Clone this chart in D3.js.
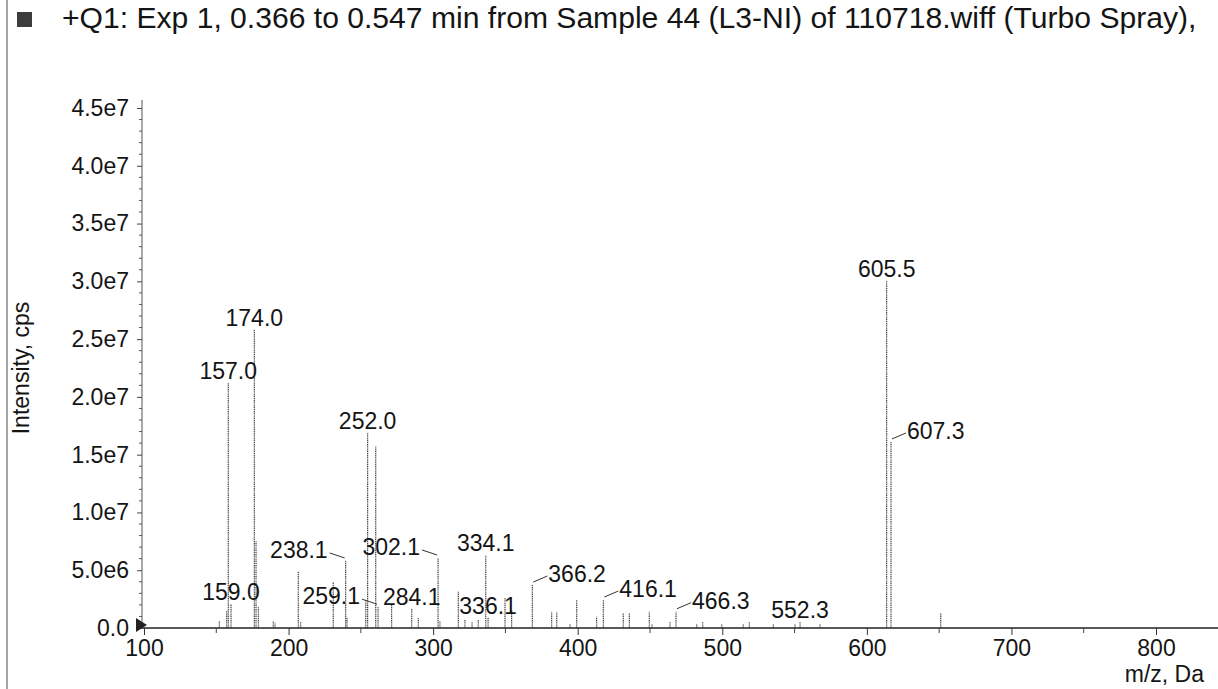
<!DOCTYPE html>
<html><head><meta charset="utf-8">
<script src="https://cdn.jsdelivr.net/npm/d3@7"></script>
<style>
body{margin:0;background:#fff}
svg{display:block}
text{font-family:"Liberation Sans",Arial,sans-serif;fill:#141414}
</style>
</head><body>
<svg id="chart" width="1218" height="689"></svg>
<script>
// ---------------- data ----------------
const titleText = "+Q1: Exp 1, 0.366 to 0.547 min from Sample 44 (L3-NI) of 110718.wiff (Turbo Spray),";
const xTitle = "m/z, Da";
const yTitle = "Intensity, cps";
const xTicks = [100, 200, 300, 400, 500, 600, 700, 800];
const xMinorTicks = [150, 250, 350, 450, 550, 650, 750];
const yTicks = [0, 5e6, 1e7, 1.5e7, 2e7, 2.5e7, 3e7, 3.5e7, 4e7, 4.5e7];
const yTickLabels = ["0.0", "5.0e6", "1.0e7", "1.5e7", "2.0e7", "2.5e7", "3.0e7", "3.5e7", "4.0e7", "4.5e7"];

const peakMz = [152.1, 157.2, 158.3, 160.2, 176.3, 177.5, 179.1, 189.4, 190.6, 206.7,
  208.4, 230.9, 239.5, 240.4, 253.4, 254.7, 260.3, 261.9, 271.3, 285.2,
  289.7, 303.4, 304.7, 317.4, 322.0, 326.9, 331.2, 336.4, 338.0, 349.7,
  354.3, 368.6, 382.0, 385.5, 394.7, 399.3, 413.1, 417.7, 431.5, 435.7,
  449.5, 451.4, 463.8, 468.0, 482.3, 486.5, 499.6, 514.5, 518.7, 535.3,
  550.3, 553.8, 567.6, 613.7, 616.7, 651.1];
const peakIntensity = [0.6e6, 1.5e6, 2.12e7, 2.1e6, 2.58e7, 7.5e6, 1.8e6, 0.6e6, 0.45e6, 4.87e6,
  0.5e6, 4.0e6, 5.8e6, 0.9e6, 2.4e6, 1.685e7, 1.57e7, 1.8e6, 2.0e6, 1.64e6,
  0.87e6, 6.06e6, 0.6e6, 3.14e6, 0.7e6, 0.5e6, 0.7e6, 6.3e6, 0.9e6, 2.57e6,
  1.56e6, 3.72e6, 1.41e6, 1.38e6, 0.4e6, 2.42e6, 0.98e6, 2.42e6, 1.32e6, 1.32e6,
  1.41e6, 0.4e6, 0.55e6, 1.41e6, 0.4e6, 0.5e6, 0.3e6, 0.4e6, 0.5e6, 0.35e6,
  0.4e6, 0.55e6, 0.3e6, 3.0e7, 1.61e7, 1.3e6];

// peak annotations: label text, index of annotated peak, placement
const labelText = ["157.0", "174.0", "252.0", "605.5", "159.0", "284.1", "334.1", "336.1", "552.3",
  "238.1", "302.1", "259.1", "366.2", "416.1", "466.3", "607.3"];
const labelPeak = [2, 4, 15, 53, 3, 19, 27, 28, 51, 12, 21, 17, 31, 37, 43, 54];
const labelSide = ["c", "c", "c", "c", "c", "c", "c", "c", "c", "l", "l", "l", "r", "r", "r", "r"];

// ---------------- drawing ----------------
const svg = d3.select("#chart");
svg.append("rect").attr("width", 1218).attr("height", 689).attr("fill", "#fff");

const x = d3.scaleLinear().domain([100, 800]).range([144, 1156]);
const y = d3.scaleLinear().domain([0, 4.5e7]).range([628, 108]);
const axisX = 142;
const FS = 23;

// left frame line
svg.append("line").attr("x1", 7).attr("x2", 7).attr("y1", 0).attr("y2", 689)
  .attr("stroke", "#888").attr("stroke-width", 1.5);

// title
svg.append("rect").attr("x", 17).attr("y", 12).attr("width", 15).attr("height", 15).attr("fill", "#3c3c3c");
const t = svg.append("text").attr("x", 62).attr("y", 28).attr("font-size", 26).text(titleText);
const tw = t.node().getComputedTextLength();
t.attr("font-size", 26 * 1135 / tw);

// y axis
const yAxis = d3.axisLeft(y).tickValues(yTicks).tickSize(5).tickPadding(8)
  .tickFormat((d, i) => yTickLabels[i]);
const gy = svg.append("g").attr("transform", `translate(${axisX},0)`).call(yAxis);
gy.select(".domain").attr("stroke", "#555").attr("d", `M0,100V628`);
gy.selectAll(".tick line").attr("stroke", "#444");
gy.selectAll(".tick text").attr("font-size", FS).attr("font-family", null).attr("fill", "#141414");
const yMinor = d3.range(1e6, 4.5e7, 1e6).filter(v => v % 5e6 !== 0);
gy.selectAll(".minor").data(yMinor).join("line").attr("class", "minor")
  .attr("x1", 0).attr("x2", -3).attr("y1", d => y(d)).attr("y2", d => y(d))
  .attr("stroke", "#555");

// x axis
const xAxis = d3.axisBottom(x).tickValues(xTicks).tickSize(7).tickPadding(6).tickFormat(d3.format("d"));
const gx = svg.append("g").attr("transform", "translate(0,628)").call(xAxis);
gx.select(".domain").attr("stroke", "#222").attr("stroke-width", 1.5).attr("d", `M${axisX},0H1218`);
gx.selectAll(".tick line").attr("stroke", "#333");
gx.selectAll(".tick text").attr("font-size", FS).attr("font-family", null).attr("fill", "#141414")
  .attr("dy", null).attr("y", 28);
gx.selectAll(".minor").data(xMinorTicks).join("line").attr("class", "minor")
  .attr("x1", d => x(d)).attr("x2", d => x(d)).attr("y1", 0).attr("y2", 5).attr("stroke", "#444");

// zero marker
svg.append("path").attr("d", `M136,618L147,625L136,632Z`).attr("fill", "#222");

// axis titles
svg.append("text").attr("x", 1204).attr("y", 682).attr("text-anchor", "end").attr("font-size", FS).text(xTitle);
svg.append("text").attr("transform", "translate(29,368) rotate(-90)").attr("text-anchor", "middle")
  .attr("font-size", FS).text(yTitle);

// peaks
const peaks = peakMz.map((m, i) => ({ m, v: peakIntensity[i] }));
svg.append("g").selectAll("line").data(peaks).join("line")
  .attr("x1", d => x(d.m)).attr("x2", d => x(d.m))
  .attr("y1", y(0)).attr("y2", d => y(d.v))
  .attr("stroke", "#333").attr("stroke-width", 1.1).attr("stroke-dasharray", "1.4,0.8");

// annotations
const ann = labelText.map((txt, i) => ({ txt, p: peaks[labelPeak[i]], side: labelSide[i] }));
const ga = svg.append("g");
ann.forEach(a => {
  const px = x(a.p.m), py = y(a.p.v);
  if (a.side === "c") {
    ga.append("text").attr("x", px).attr("y", py - 4).attr("text-anchor", "middle").attr("font-size", FS).text(a.txt);
  } else if (a.side === "r") {
    ga.append("line").attr("x1", px + 1).attr("y1", py - 3).attr("x2", px + 15).attr("y2", py - 9)
      .attr("stroke", "#333").attr("stroke-width", 1);
    ga.append("text").attr("x", px + 16).attr("y", py - 3).attr("text-anchor", "start").attr("font-size", FS).text(a.txt);
  } else {
    ga.append("line").attr("x1", px - 1).attr("y1", py - 3).attr("x2", px - 16).attr("y2", py - 8)
      .attr("stroke", "#333").attr("stroke-width", 1);
    ga.append("text").attr("x", px - 18).attr("y", py - 3).attr("text-anchor", "end").attr("font-size", FS).text(a.txt);
  }
});
</script>
</body></html>
